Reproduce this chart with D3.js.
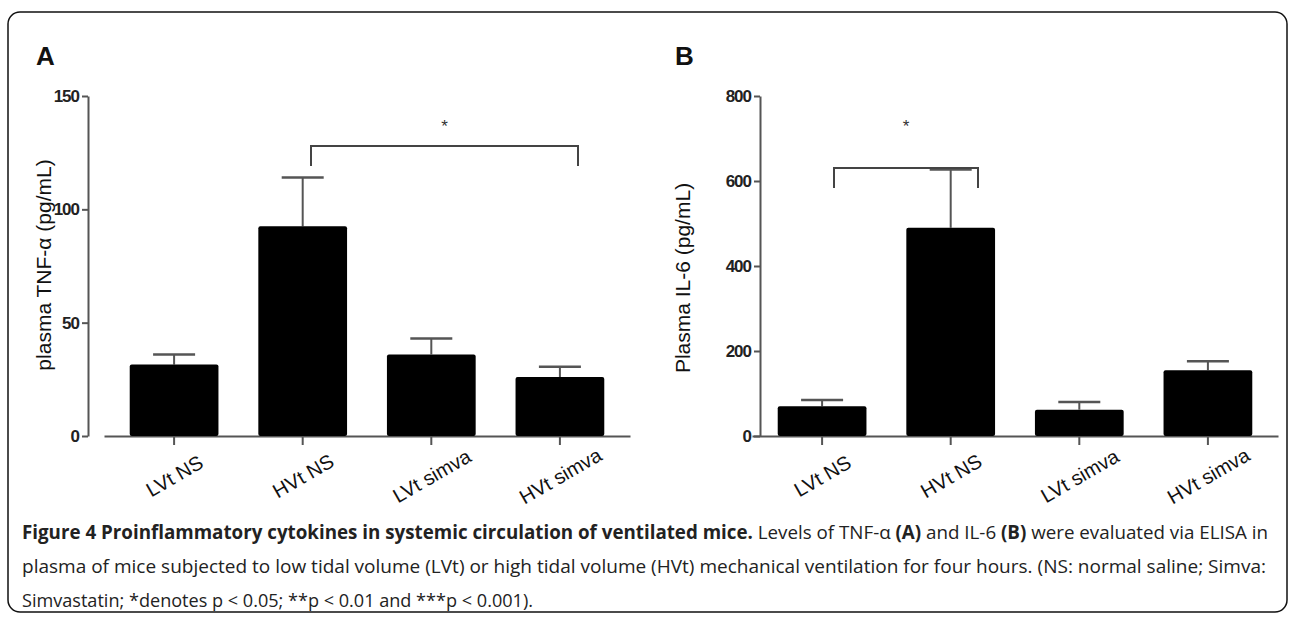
<!DOCTYPE html>
<html>
<head>
<meta charset="utf-8">
<script src="https://cdn.jsdelivr.net/npm/d3@7"></script>
<style>
  body { margin: 0; background: #fff; }
  svg { display: block; }
</style>
</head>
<body>
<svg id="chart"></svg>
<script>
// Data
const groups = ["LVt NS", "HVt NS", "LVt simva", "HVt simva"];
const tnfMean = [31.5, 92.5, 36, 26];
const tnfErr = [36, 114, 43, 30.5];
const tnfTicks = [0, 50, 100, 150];
const il6Mean = [70, 490, 62, 155];
const il6Err = [85, 627, 80, 176];
const il6Ticks = [0, 200, 400, 600, 800];

const width = 1295;
const height = 625;

const svg = d3.select("#chart")
    .attr("width", width)
    .attr("height", height);

// Outer rounded frame
svg.append("rect")
    .attr("x", 8).attr("y", 12)
    .attr("width", 1279).attr("height", 600)
    .attr("rx", 12)
    .attr("fill", "none")
    .attr("stroke", "#111")
    .attr("stroke-width", 1.5);

function drawPanel(opt) {
    const g = svg.append("g");

    const x = d3.scaleBand()
        .domain(groups)
        .range(opt.xRange)
        .paddingInner(0.31)
        .paddingOuter(0.2);

    const y = d3.scaleLinear()
        .domain([0, opt.ticks[opt.ticks.length - 1]])
        .range([436, 96]);

    // y axis
    const yAxis = g.append("g")
        .attr("transform", `translate(${opt.yAxisX},0)`)
        .call(d3.axisLeft(y).tickValues(opt.ticks).tickSize(6).tickSizeOuter(0));
    yAxis.select(".domain").attr("stroke", "#555").attr("stroke-width", 2);
    yAxis.selectAll(".tick line").attr("stroke", "#555").attr("stroke-width", 2);
    yAxis.selectAll(".tick text")
        .attr("x", -9)
        .attr("fill", "#222")
        .style("font-family", "'Liberation Sans', Arial, sans-serif")
        .style("font-weight", "bold")
        .style("letter-spacing", "-1px")
        .style("font-size", "17px");

    // x axis
    const xAxis = g.append("g")
        .attr("transform", `translate(0,${y(0)})`)
        .call(d3.axisBottom(x).tickSize(9).tickSizeOuter(0));
    xAxis.select(".domain").attr("stroke", "#555").attr("stroke-width", 2);
    xAxis.selectAll(".tick line").attr("stroke", "#555").attr("stroke-width", 2);
    xAxis.selectAll(".tick text")
        .attr("fill", "#111")
        .attr("text-anchor", "middle")
        .attr("y", 0).attr("dy", 0)
        .attr("transform", "translate(4,46) rotate(-30)")
        .style("font-family", "'Liberation Sans', Arial, sans-serif")
        .style("font-size", "20px");

    // error bars (drawn first so bar covers the stem)
    const err = g.selectAll(".err")
        .data(groups.map((d, i) => ({ k: d, m: opt.mean[i], e: opt.err[i] })))
        .enter().append("g");
    err.append("line")
        .attr("x1", d => x(d.k) + x.bandwidth() / 2)
        .attr("x2", d => x(d.k) + x.bandwidth() / 2)
        .attr("y1", d => y(d.m))
        .attr("y2", d => y(d.e))
        .attr("stroke", "#555").attr("stroke-width", 2);
    err.append("line")
        .attr("x1", d => x(d.k) + x.bandwidth() / 2 - 21)
        .attr("x2", d => x(d.k) + x.bandwidth() / 2 + 21)
        .attr("y1", d => y(d.e))
        .attr("y2", d => y(d.e))
        .attr("stroke", "#555").attr("stroke-width", 2.5);

    // bars
    g.selectAll(".bar")
        .data(groups.map((d, i) => ({ k: d, m: opt.mean[i] })))
        .enter().append("rect")
        .attr("x", d => x(d.k))
        .attr("y", d => y(d.m))
        .attr("width", x.bandwidth())
        .attr("height", d => y(0) - y(d.m))
        .attr("rx", 2)
        .attr("fill", "#000");

    // significance bracket
    const b = opt.bracket;
    g.append("path")
        .attr("d", `M${b.x1},${b.y + 20}V${b.y}H${b.x2}V${b.y + 20}`)
        .attr("fill", "none")
        .attr("stroke", "#444")
        .attr("stroke-width", 2);
    g.append("text")
        .attr("x", (b.x1 + b.x2) / 2)
        .attr("y", 132)
        .attr("text-anchor", "middle")
        .attr("fill", "#333")
        .style("font-family", "'Liberation Sans', Arial, sans-serif")
        .style("font-size", "17px")
        .text("*");

    // y axis title
    g.append("text")
        .attr("transform", `translate(${opt.titleX},${opt.titleY}) rotate(-90)`)
        .attr("text-anchor", "middle")
        .attr("fill", "#111")
        .style("font-family", "'Liberation Sans', Arial, sans-serif")
        .style("font-size", "21px")
        .text(opt.title);

    // panel letter
    g.append("text")
        .attr("x", opt.letterX)
        .attr("y", 65)
        .attr("fill", "#111")
        .style("font-family", "'Liberation Sans', Arial, sans-serif")
        .style("font-size", "26px")
        .style("font-weight", "600")
        .text(opt.letter);
}

drawPanel({
    xRange: [104, 630], yAxisX: 88,
    mean: tnfMean, err: tnfErr, ticks: tnfTicks,
    bracket: { x1: 311, x2: 578, y: 146 },
    title: "plasma TNF-α (pg/mL)", titleX: 51, titleY: 265,
    letter: "A", letterX: 36
});

drawPanel({
    xRange: [752, 1278], yAxisX: 760,
    mean: il6Mean, err: il6Err, ticks: il6Ticks,
    bracket: { x1: 834, x2: 978, y: 168 },
    title: "Plasma IL-6 (pg/mL)", titleX: 690, titleY: 278,
    letter: "B", letterX: 675
});

// Caption
const capFont = "'Liberation Sans Narrow', 'Open Sans', sans-serif";
const cap1 = svg.append("text")
    .attr("x", 22).attr("y", 539)
    .attr("textLength", 1246).attr("lengthAdjust", "spacingAndGlyphs")
    .attr("fill", "#222")
    .style("font-family", capFont).style("font-size", "19px");
cap1.append("tspan").style("font-weight", "bold")
    .text("Figure 4 Proinflammatory cytokines in systemic circulation of ventilated mice.");
cap1.append("tspan").text(" Levels of TNF-α ");
cap1.append("tspan").style("font-weight", "bold").text("(A)");
cap1.append("tspan").text(" and IL-6 ");
cap1.append("tspan").style("font-weight", "bold").text("(B)");
cap1.append("tspan").text(" were evaluated via ELISA in");

svg.append("text")
    .attr("x", 22).attr("y", 573)
    .attr("textLength", 1244).attr("lengthAdjust", "spacingAndGlyphs")
    .attr("fill", "#222")
    .style("font-family", capFont).style("font-size", "19px")
    .text("plasma of mice subjected to low tidal volume (LVt) or high tidal volume (HVt) mechanical ventilation for four hours. (NS: normal saline; Simva:");

svg.append("text")
    .attr("x", 22).attr("y", 607)
    .attr("textLength", 511).attr("lengthAdjust", "spacingAndGlyphs")
    .attr("fill", "#222")
    .style("font-family", capFont).style("font-size", "19px")
    .text("Simvastatin; *denotes p < 0.05; **p < 0.01 and ***p < 0.001).");
</script>
</body>
</html>
